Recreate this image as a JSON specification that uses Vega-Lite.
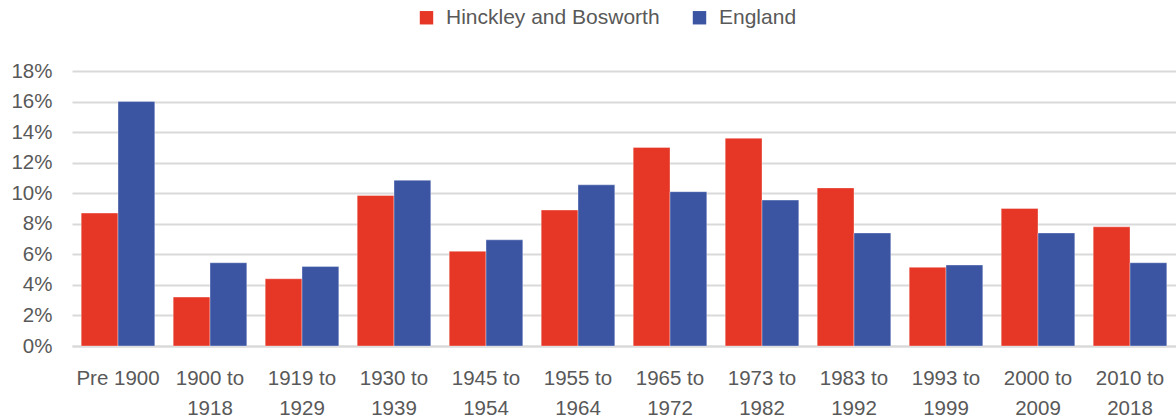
{
  "$schema": "https://vega.github.io/schema/vega-lite/v6.json",
  "width": 1104,
  "height": 275,
  "autosize": {"type": "none"},
  "padding": {"left": 72, "top": 71, "right": 0, "bottom": 73},
  "background": "white",
  "data": {
    "values": [
      {"period": "Pre 1900", "area": "Hinckley and Bosworth", "share": 8.7},
      {"period": "Pre 1900", "area": "England", "share": 16.0},
      {"period": "1900 to 1918", "area": "Hinckley and Bosworth", "share": 3.2},
      {"period": "1900 to 1918", "area": "England", "share": 5.45},
      {"period": "1919 to 1929", "area": "Hinckley and Bosworth", "share": 4.4},
      {"period": "1919 to 1929", "area": "England", "share": 5.2},
      {"period": "1930 to 1939", "area": "Hinckley and Bosworth", "share": 9.85},
      {"period": "1930 to 1939", "area": "England", "share": 10.85},
      {"period": "1945 to 1954", "area": "Hinckley and Bosworth", "share": 6.2},
      {"period": "1945 to 1954", "area": "England", "share": 6.95},
      {"period": "1955 to 1964", "area": "Hinckley and Bosworth", "share": 8.9},
      {"period": "1955 to 1964", "area": "England", "share": 10.55},
      {"period": "1965 to 1972", "area": "Hinckley and Bosworth", "share": 13.0},
      {"period": "1965 to 1972", "area": "England", "share": 10.1},
      {"period": "1973 to 1982", "area": "Hinckley and Bosworth", "share": 13.6},
      {"period": "1973 to 1982", "area": "England", "share": 9.55},
      {"period": "1983 to 1992", "area": "Hinckley and Bosworth", "share": 10.35},
      {"period": "1983 to 1992", "area": "England", "share": 7.4},
      {"period": "1993 to 1999", "area": "Hinckley and Bosworth", "share": 5.15},
      {"period": "1993 to 1999", "area": "England", "share": 5.3},
      {"period": "2000 to 2009", "area": "Hinckley and Bosworth", "share": 9.0},
      {"period": "2000 to 2009", "area": "England", "share": 7.4},
      {"period": "2010 to 2018", "area": "Hinckley and Bosworth", "share": 7.8},
      {"period": "2010 to 2018", "area": "England", "share": 5.45}
    ]
  },
  "mark": {"type": "bar", "stroke": "white", "strokeOpacity": 0.35, "strokeWidth": 1},
  "encoding": {
    "x": {
      "field": "period",
      "type": "nominal",
      "sort": null,
      "title": null,
      "scale": {"paddingInner": 0.2, "paddingOuter": 0.1},
      "axis": {
        "labelAngle": 0,
        "labelFont": "Liberation Sans",
        "labelFontSize": 20.5,
        "labelColor": "#595959",
        "labelPadding": 32,
        "labelLineHeight": 30,
        "labelBaseline": "middle",
        "ticks": false,
        "domainColor": "#d9d9d9",
        "domainWidth": 2,
        "labelExpr": "indexof(datum.label, ' to ') > 0 ? [slice(datum.label, 0, indexof(datum.label, ' to ') + 3), slice(datum.label, indexof(datum.label, ' to ') + 4)] : datum.label"
      }
    },
    "xOffset": {"field": "area", "type": "nominal", "sort": ["Hinckley and Bosworth", "England"], "scale": {"paddingInner": 0, "paddingOuter": 0}},
    "y": {
      "field": "share",
      "type": "quantitative",
      "title": null,
      "scale": {"domain": [0, 18], "nice": false},
      "axis": {
        "values": [0, 2, 4, 6, 8, 10, 12, 14, 16, 18],
        "labelExpr": "datum.value + '%'",
        "labelFont": "Liberation Sans",
        "labelFontSize": 20.5,
        "labelColor": "#595959",
        "labelPadding": 20,
        "ticks": false,
        "domain": false,
        "gridColor": "#d9d9d9",
        "gridWidth": 2
      }
    },
    "color": {
      "field": "area",
      "type": "nominal",
      "sort": ["Hinckley and Bosworth", "England"],
      "scale": {"domain": ["Hinckley and Bosworth", "England"], "range": ["#E63626", "#3B55A3"]},
      "legend": {
        "title": null,
        "orient": "none",
        "direction": "horizontal",
        "legendX": 344,
        "legendY": -64,
        "symbolType": "square",
        "symbolSize": 180,
        "symbolStrokeWidth": 0,
        "labelFont": "Liberation Sans",
        "labelFontSize": 21,
        "labelColor": "#595959",
        "labelOffset": 9,
        "labelLimit": 400,
        "columnPadding": 29
      }
    }
  },
  "config": {"view": {"stroke": null}}
}
